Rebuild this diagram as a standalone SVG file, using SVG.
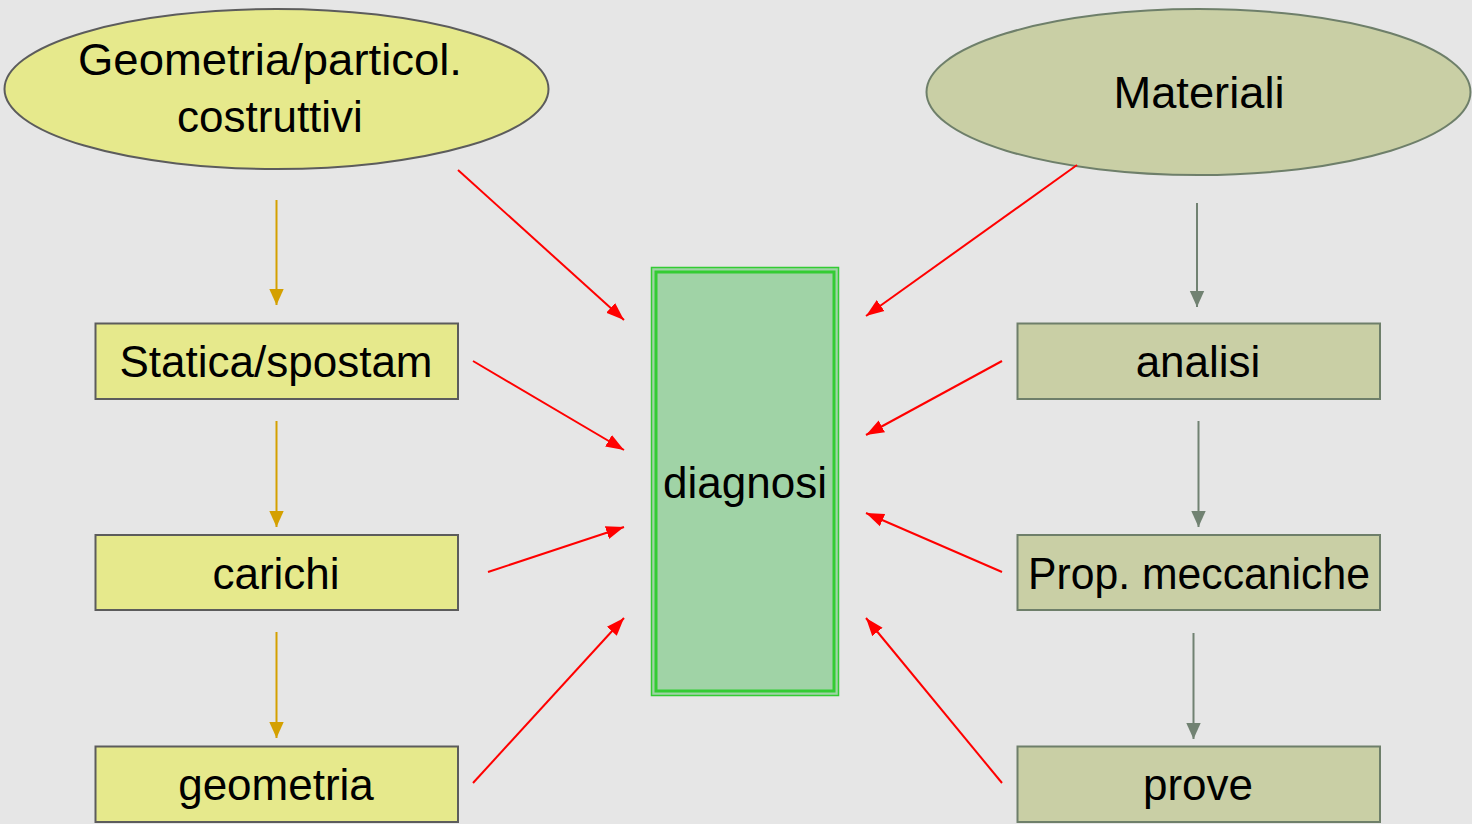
<svg xmlns="http://www.w3.org/2000/svg" width="1472" height="824" viewBox="0 0 1472 824">
<defs>
<style>
.t{font-family:"Liberation Sans",Arial,sans-serif;font-size:44px;fill:#000;text-anchor:middle}
.ly{fill:#e6e98c;stroke:#5c5c5c;stroke-width:2}
.rg{fill:#c9cfa5;stroke:#6e7f6a;stroke-width:2}
.ca{stroke:#d4a000;stroke-width:2;fill:none}
.cg{stroke:#718272;stroke-width:2;fill:none}
.cr{stroke:#ff0000;stroke-width:2;fill:none}
</style>
<marker id="ma" viewBox="0 0 10 10" refX="10" refY="5" markerWidth="16" markerHeight="16" markerUnits="userSpaceOnUse" orient="auto"><path d="M0,0.5 L10,5 L0,9.5 z" fill="#d4a000"/></marker>
<marker id="mg" viewBox="0 0 10 10" refX="10" refY="5" markerWidth="16" markerHeight="16" markerUnits="userSpaceOnUse" orient="auto"><path d="M0,0.5 L10,5 L0,9.5 z" fill="#718272"/></marker>
<marker id="mr" viewBox="0 0 10 10" refX="10" refY="5" markerWidth="18" markerHeight="18" markerUnits="userSpaceOnUse" orient="auto"><path d="M0,1.3 L10,5 L0,8.7 z" fill="#ff0000"/></marker>
</defs>
<rect width="1472" height="824" fill="#e6e6e6"/>

<g id="geometria-particol">
<ellipse class="ly" cx="276.5" cy="89" rx="272" ry="80"/>
<text class="t" x="270" y="75" textLength="384" lengthAdjust="spacingAndGlyphs">Geometria/particol.</text>
<text class="t" x="270" y="132">costruttivi</text>
</g>
<g id="materiali">
<ellipse class="rg" cx="1198.5" cy="92" rx="272" ry="83"/>
<text class="t" x="1199" y="108" textLength="171" lengthAdjust="spacingAndGlyphs">Materiali</text>
</g>
<g id="statica">
<rect class="ly" x="95.5" y="323.5" width="362.5" height="75.5"/>
<text class="t" x="276" y="377">Statica/spostam</text>
</g>
<g id="carichi">
<rect class="ly" x="95.5" y="535" width="362.5" height="75"/>
<text class="t" x="276" y="589">carichi</text>
</g>
<g id="geometria">
<rect class="ly" x="95.5" y="746.5" width="362.5" height="75.5"/>
<text class="t" x="276" y="800">geometria</text>
</g>
<g id="analisi">
<rect class="rg" x="1017.5" y="323.5" width="362.5" height="75.5"/>
<text class="t" x="1198" y="377">analisi</text>
</g>
<g id="prop-meccaniche">
<rect class="rg" x="1017.5" y="535" width="362.5" height="75"/>
<text class="t" x="1199" y="589" textLength="342" lengthAdjust="spacingAndGlyphs">Prop. meccaniche</text>
</g>
<g id="prove">
<rect class="rg" x="1017.5" y="746.5" width="362.5" height="75.5"/>
<text class="t" x="1198" y="800">prove</text>
</g>
<g id="diagnosi">
<rect x="651.5" y="267.5" width="187" height="428" fill="#a0d3a6" stroke="#33cc33" stroke-width="1.5"/>
<rect x="656" y="272" width="178" height="419" fill="none" stroke="#33cc33" stroke-width="3"/>
<text class="t" x="745" y="498">diagnosi</text>
</g>

<g id="connectors">
<line class="ca" x1="276.5" y1="200" x2="276.5" y2="305" marker-end="url(#ma)"/>
<line class="ca" x1="276.5" y1="421" x2="276.5" y2="527" marker-end="url(#ma)"/>
<line class="ca" x1="276.5" y1="632" x2="276.5" y2="738" marker-end="url(#ma)"/>
<line class="cg" x1="1197" y1="203" x2="1197" y2="307" marker-end="url(#mg)"/>
<line class="cg" x1="1198.5" y1="421" x2="1198.5" y2="527" marker-end="url(#mg)"/>
<line class="cg" x1="1193.5" y1="633" x2="1193.5" y2="739" marker-end="url(#mg)"/>
<line class="cr" x1="458" y1="170" x2="624" y2="320" marker-end="url(#mr)"/>
<line class="cr" x1="473" y1="361" x2="624" y2="450" marker-end="url(#mr)"/>
<line class="cr" x1="488" y1="572" x2="624" y2="527" marker-end="url(#mr)"/>
<line class="cr" x1="473" y1="783" x2="624" y2="618" marker-end="url(#mr)"/>
<line class="cr" x1="1077" y1="165" x2="866" y2="316" marker-end="url(#mr)"/>
<line class="cr" x1="1002" y1="361" x2="866" y2="435" marker-end="url(#mr)"/>
<line class="cr" x1="1002" y1="572" x2="866" y2="513" marker-end="url(#mr)"/>
<line class="cr" x1="1002" y1="783" x2="866" y2="618" marker-end="url(#mr)"/>
</g>
</svg>
